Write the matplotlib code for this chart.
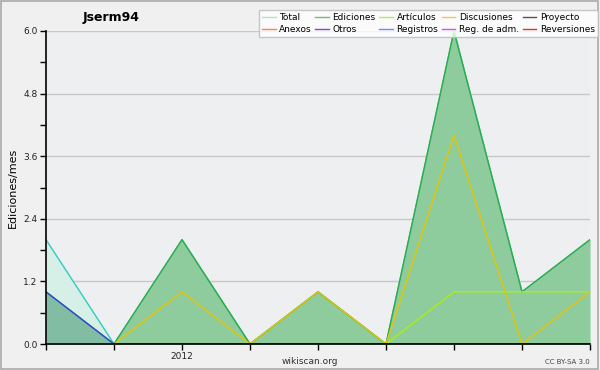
import matplotlib
matplotlib.use("Agg")
import matplotlib.pyplot as plt
from matplotlib.lines import Line2D
from matplotlib.patches import Rectangle

months = ["2011-11", "2011-12", "2012-01", "2012-02", "2012-03", "2012-04", "2012-05", "2012-06", "2012-07"]
total = [2, 0, 2, 0, 1, 0, 6, 1, 2]
ediciones = [1, 0, 2, 0, 1, 0, 6, 1, 2]
articulos = [0, 0, 0, 0, 0, 0, 1, 1, 1]
discusiones = [0, 0, 1, 0, 1, 0, 4, 0, 1]
registros = [1, 0, 0, 0, 0, 0, 0, 0, 0]
xtick_labels = ["", "", "2012", "", "", "", "", "", ""]
yticks = [0.0, 1.2, 2.4, 3.6, 4.8, 6.0]

legend_names = ["Total", "Anexos", "Ediciones", "Otros", "Artículos", "Registros",
                "Discusiones", "Reg. de adm.", "Proyecto", "Reversiones"]
legend_colors = ["#a8e4dc", "#f08850", "#70c070", "#8844cc", "#b8ee44", "#7788ee",
                 "#f0cc44", "#cc55dd", "#555555", "#dd3333"]

fig = plt.figure(figsize=(6, 3.7), dpi=100, facecolor="#f0f0f0")
fig.patches.append(Rectangle((0.002, 0.003), 0.995, 0.994, transform=fig.transFigure,
                             fill=False, edgecolor="#aaaaaa", lw=1.2))
ax = fig.add_axes([46/600, 26/370, 544/600, 313/370])
ax.set_facecolor("#eeeff0")
x = list(range(len(months)))

ax.fill_between(x, 0, total, color="#d6f0e8", zorder=1)
ax.fill_between(x, 0, ediciones, color="#7ec48a", alpha=0.8, zorder=2, lw=0)
ax.fill_between(x, 0, registros, color="#6a9fb0", alpha=0.35, zorder=2.5, lw=0)
ax.plot(x, total, color="#33ccc0", lw=1, zorder=3)
ax.plot(x, ediciones, color="#33aa44", lw=1, zorder=4)
ax.plot(x, articulos, color="#aaee11", lw=1, zorder=5)
ax.plot(x, discusiones, color="#e8c400", lw=1, zorder=6)
ax.plot(x, registros, color="#3344dd", lw=1, zorder=7)

ax.set_xlim(0, 8)
ax.set_ylim(0, 6.0)
ax.set_xticks(x)
ax.set_xticklabels(xtick_labels, fontsize=6.5, color="#222222")
ax.set_yticks(yticks)
ax.set_yticklabels([f"{v:.1f}" for v in yticks], fontsize=6.5, color="#222222")
ax.set_yticks([0.6, 1.8, 3.0, 4.2, 5.4], minor=True)
ax.tick_params(axis="both", which="both", direction="out", length=4, width=1, pad=2)
ax.grid(axis="y", which="major", color="#c8c8c8", lw=1)
ax.set_axisbelow(True)
for s in ["top", "right"]:
    ax.spines[s].set_visible(False)
for s in ["left", "bottom"]:
    ax.spines[s].set_color("black")
    ax.spines[s].set_linewidth(1.2)
    ax.spines[s].set_zorder(10)

ax.set_ylabel("Ediciones/mes", fontsize=8, labelpad=4)
fig.text(111/600, 1 - 18/370, "Jserm94", fontsize=9, fontweight="bold", ha="center", va="center")
fig.text(310/600, 1 - 361/370, "wikiscan.org", fontsize=6.5, ha="center", va="center", color="#333333")
fig.text(590/600, 1 - 362/370, "CC BY-SA 3.0", fontsize=5, ha="right", va="center", color="#444444")

handles = [Line2D([], [], color=c, lw=1) for c in legend_colors]
leg = fig.legend(handles, legend_names, loc="upper right", bbox_to_anchor=(598/600, 1 - 10/370),
                 ncol=5, fontsize=6.5, frameon=True, fancybox=False, handlelength=1.5,
                 handletextpad=0.4, columnspacing=0.4, labelspacing=0.3, borderpad=0.35,
                 borderaxespad=0)
leg.get_frame().set_edgecolor("#bbbbbb")
leg.get_frame().set_facecolor("white")
leg.get_frame().set_linewidth(1)

fig.savefig("out.png", dpi=100, facecolor=fig.get_facecolor())
